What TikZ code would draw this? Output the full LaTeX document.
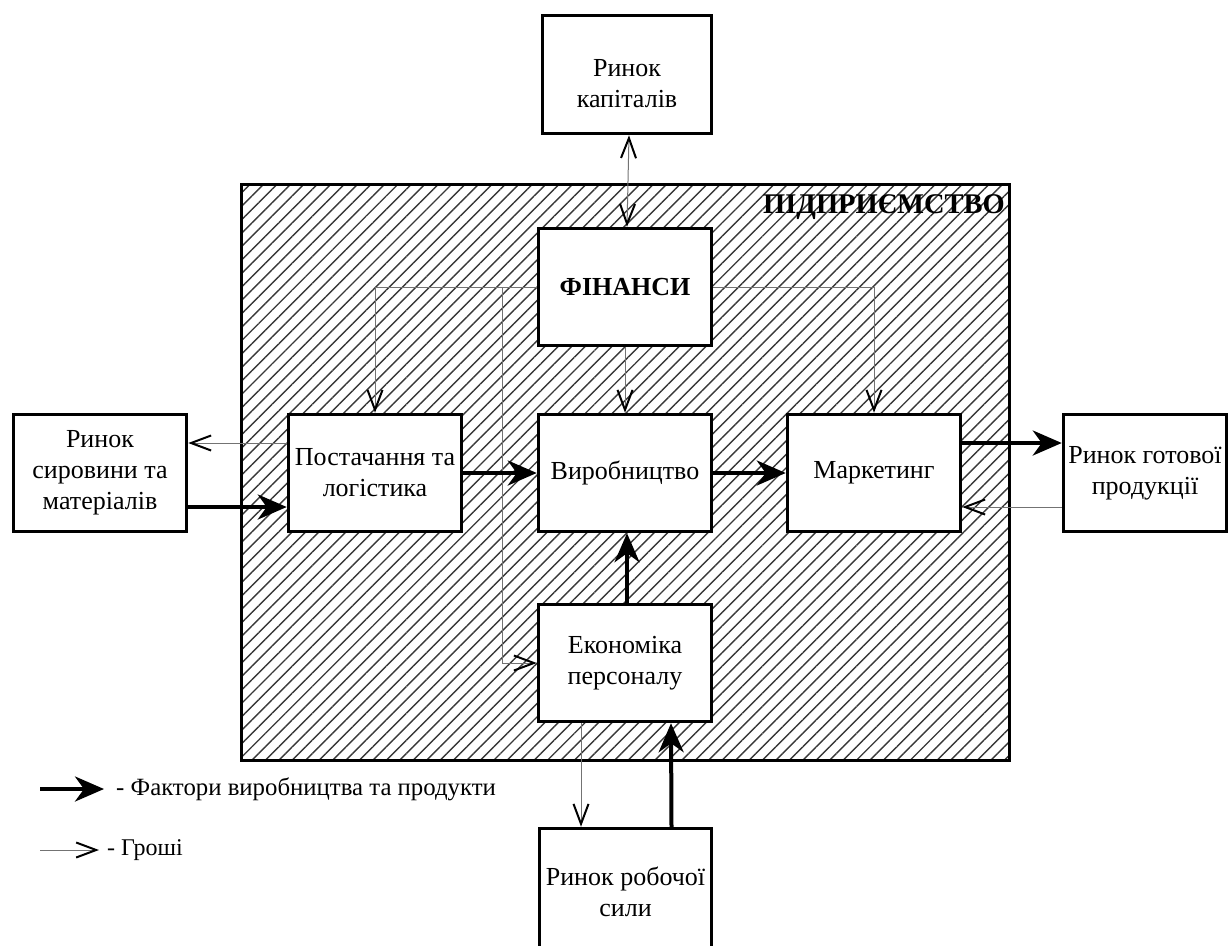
\documentclass[tikz,border=0pt]{standalone}
\usepackage{fontspec}
\setmainfont{Liberation Serif}
\usetikzlibrary{arrows.meta,patterns.meta}

\begin{document}
\begin{tikzpicture}[x=1pt,y=-1pt,
  txt/.style={font=\fontsize{26}{31}\selectfont},
  unit/.style={draw,line width=3.5pt,fill=white,align=center,inner sep=0pt,
    minimum width=173pt,minimum height=117pt,txt},
  market/.style={unit,fill=none},
  firmbox/.style={draw,line width=3pt,inner sep=0pt,
    pattern={Lines[angle=45,distance=9.5pt,line width=1.4pt]},pattern color=black!78},
  mb/.tip={Straight Barb[length=20pt,width=15pt,line width=2pt,color=black]},
  gb/.tip={Stealth[length=29pt,width=25pt,inset=9pt]},
  goods/.style={line width=4pt,-gb},
  money/.style={line width=1pt,draw=black!55,-mb},
]
\useasboundingbox (0,0) rectangle (1231,945);

% enterprise frame with hatching
\node[firmbox,minimum width=768pt,minimum height=576pt] (firm) at (625,472) {};
\node[anchor=north east,inner sep=0pt,font=\bfseries\fontsize{28.5}{32}\selectfont] (firmlabel)
  at (1005,194) {ПІДПРИЄМСТВО};

% markets outside the enterprise
\node[market,minimum width=169pt,minimum height=118pt] (capital) at (627,74.5) {};
\node[txt,align=center,inner sep=0pt] (capitaltext) at (627,84) {Ринок\\капіталів};
\node[market] (raw) at (100,473) {Ринок\\сировини та\\матеріалів};
\node[market,minimum width=163pt] (sales) at (1145,473) {Ринок готової\\продукції};
\node[market,minimum width=172pt,minimum height=127pt] (labour) at (625.5,892) {Ринок робочої\\сили};

% functional units of the enterprise
\node[unit] (fin) at (625,287) {\textbf{ФІНАНСИ}};
\node[unit] (supply) at (375,473) {Постачання та\\логістика};
\node[unit] (prod) at (625,473) {Виробництво};
\node[unit] (mkt) at (874,473) {Маркетинг};
\node[unit] (econ) at (625,663) {Економіка\\персоналу};

% money flows
\draw[money,mb-mb] ([xshift=2pt]capital.south) -- ([xshift=2pt]fin.north);
\draw[money] (fin.west) -| (supply.north);
\coordinate (split) at (502,287);
\draw[money] (split) |- (econ.west);
\draw[money] (fin.south) -- (prod.north);
\draw[money] (fin.east) -| (mkt.north);
\draw[money] ([yshift=30pt]supply.west) -- ([yshift=30pt]raw.east);
\draw[money] ([yshift=-34pt]sales.west) -- ([yshift=-34pt]mkt.east);
\draw[money] ([xshift=-44pt]econ.south) -- ([xshift=-44pt]econ.south |- labour.north);

% flows of production factors and products
\draw[goods] ([yshift=-34pt]raw.east) -- ([yshift=-34pt]supply.west);
\draw[goods] (supply) -- (prod);
\draw[goods] (prod) -- (mkt);
\draw[goods] ([yshift=30pt]mkt.east) -- ([yshift=30pt]sales.west);
\draw[goods] ([xshift=2pt]econ.north) -- ([xshift=2pt]prod.south);
\draw[goods] ([xshift=46pt]labour.north) -- ([xshift=46pt]econ.south);

% legend
\coordinate (lg1a) at (40,789);
\coordinate (lg1b) at (104,789);
\draw[goods] (lg1a) -- (lg1b);
\node[anchor=west,inner sep=0pt,font=\fontsize{24.8}{28}\selectfont] (lg1) at (116,789)
  {- Фактори виробництва та продукти};
\coordinate (lg2a) at (40,850);
\coordinate (lg2b) at (99,850);
\draw[money] (lg2a) -- (lg2b);
\node[anchor=west,inner sep=0pt,font=\fontsize{24}{28}\selectfont] (lg2) at (107,850) {- Гроші};
\end{tikzpicture}
\end{document}
